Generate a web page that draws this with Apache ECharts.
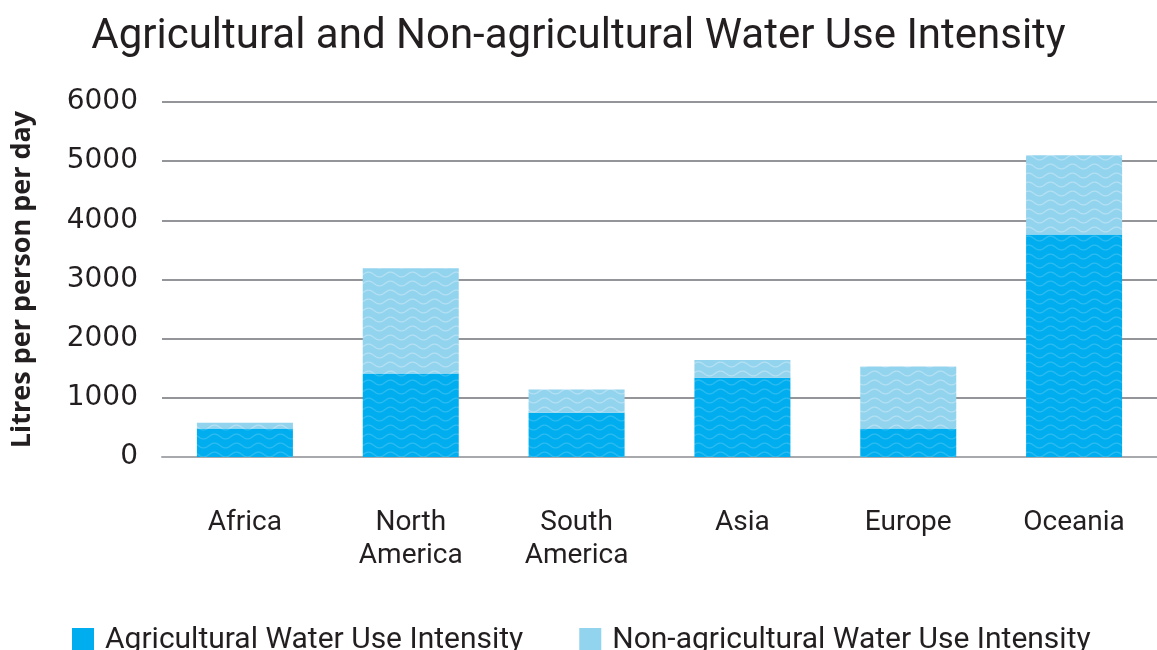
<!DOCTYPE html>
<html>
<head>
<meta charset="utf-8">
<script src="https://cdn.jsdelivr.net/npm/echarts@6/dist/echarts.min.js"></script>
<style>
html,body{margin:0;padding:0;background:#fff;}
#main{width:1157px;height:650px;}
</style>
</head>
<body>
<div id="main"></div>
<script>
const categories = ['Africa', 'North\nAmerica', 'South\nAmerica', 'Asia', 'Europe', 'Oceania'];
const agricultural = [480, 1410, 750, 1340, 480, 3760];
const nonAgricultural = [100, 1780, 390, 300, 1050, 1340];
const yTicks = [0, 1000, 2000, 3000, 4000, 5000, 6000];
const seriesNames = ['Agricultural Water Use Intensity', 'Non-agricultural Water Use Intensity'];

const darkBlue = '#00AEEF';
const lightBlue = '#92D3EE';

function wavePattern(base, stroke) {
  const w = 22, h = 9;
  const c = document.createElement('canvas');
  c.width = w; c.height = h;
  const ctx = c.getContext('2d');
  ctx.fillStyle = base;
  ctx.fillRect(0, 0, w, h);
  ctx.strokeStyle = stroke;
  ctx.lineWidth = 1.4;
  for (let off = -h; off <= h; off += h) {
    ctx.beginPath();
    for (let x = 0; x <= w; x += 0.5) {
      const y = h / 2 + off + 2.4 * Math.sin((x / w) * Math.PI * 2);
      if (x === 0) ctx.moveTo(x, y); else ctx.lineTo(x, y);
    }
    ctx.stroke();
  }
  return c;
}

const chart = echarts.init(document.getElementById('main'), null, {renderer: 'canvas'});
const font = 'Roboto';
chart.setOption({
  animation: false,
  backgroundColor: '#ffffff',
  title: {
    text: 'Agricultural and Non-agricultural Water Use Intensity',
    left: 'center',
    top: 11,
    textStyle: {fontFamily: font, fontWeight: 'normal', fontSize: 42, color: '#231f20'}
  },
  legend: {
    left: 67,
    top: 620,
    itemWidth: 22,
    itemHeight: 24,
    itemGap: 56,
    icon: 'rect',
    textStyle: {fontFamily: font, fontSize: 30, color: '#231f20', padding: [0, 0, 0, 6]},
    data: [
      {name: seriesNames[0], itemStyle: {color: darkBlue}},
      {name: seriesNames[1], itemStyle: {color: lightBlue}}
    ]
  },
  grid: {left: 162, right: 0, top: 102, bottom: 193, containLabel: false},
  xAxis: {
    type: 'category',
    data: categories,
    axisLine: {show: true, lineStyle: {color: '#a7a9ac', width: 2}},
    axisTick: {show: false},
    axisLabel: {fontFamily: font, fontSize: 28, color: '#231f20', margin: 49, lineHeight: 33}
  },
  yAxis: {
    type: 'value',
    min: 0,
    max: 6000,
    interval: 1000,
    name: 'Litres per person per day',
    nameLocation: 'middle',
    nameGap: 126,
    nameTextStyle: {fontFamily: 'Open Sans', fontWeight: 'bold', fontSize: 27, color: '#231f20'},
    axisLine: {show: false},
    axisTick: {show: false},
    splitLine: {lineStyle: {color: '#939598', width: 2}},
    axisLabel: {
      fontFamily: 'DejaVu Sans', fontSize: 28, color: '#231f20', margin: 24,
      padding: [5, 0, 0, 0],
      formatter: v => yTicks.includes(v) ? String(v) : ''
    }
  },
  series: [
    {
      name: seriesNames[0],
      type: 'bar',
      stack: 'total',
      barWidth: 96,
      data: agricultural,
      itemStyle: {color: {image: wavePattern(darkBlue, 'rgba(255,255,255,0.17)'), repeat: 'repeat'}}
    },
    {
      name: seriesNames[1],
      type: 'bar',
      stack: 'total',
      barWidth: 96,
      data: nonAgricultural,
      itemStyle: {color: {image: wavePattern(lightBlue, 'rgba(255,255,255,0.3)'), repeat: 'repeat'}}
    }
  ]
});
</script>
</body>
</html>
